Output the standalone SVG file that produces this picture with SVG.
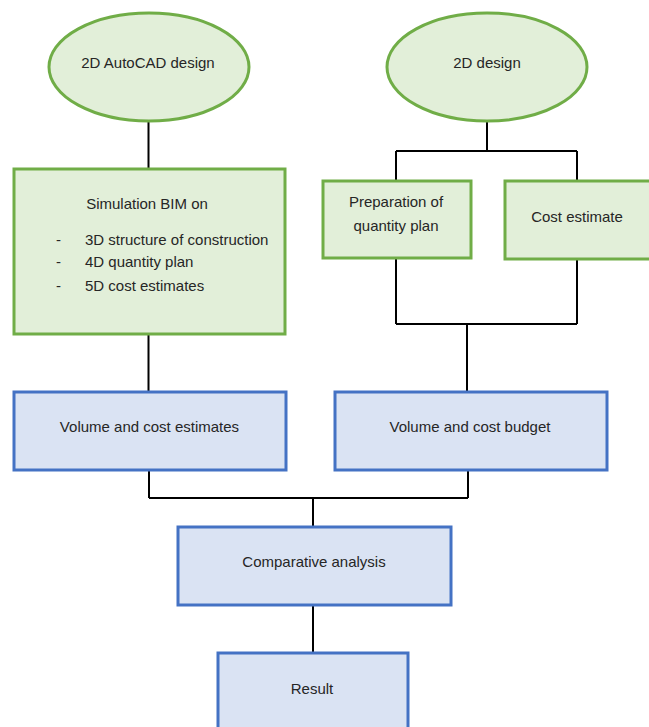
<svg xmlns="http://www.w3.org/2000/svg" width="649" height="727" viewBox="0 0 649 727">
<style>
.g{fill:#e2efd9;stroke:#70ad47;stroke-width:3}
.b{fill:#dae3f3;stroke:#4472c4;stroke-width:3}
.c{fill:none;stroke:#000;stroke-width:2}
text{font-family:"Liberation Sans",Arial,sans-serif;font-size:15px;fill:#262626}
.m{text-anchor:middle}
</style>
<rect width="649" height="727" fill="#fff"/>
<g id="connectors">
<path class="c" d="M148.5 121V169"/>
<path class="c" d="M148.5 334V392"/>
<path class="c" d="M487 121V151M396 151H577M396 151V181M577 151V181"/>
<path class="c" d="M396 258V324M577 259V324M396 324H577M467 324V392"/>
<path class="c" d="M149 470V498M468 470V498M149 498H468M313 498V527"/>
<path class="c" d="M313 605V653"/>
</g>
<g id="n1"><ellipse class="g" cx="149" cy="67" rx="100" ry="54"/><text class="m" x="148" y="68">2D AutoCAD design</text></g>
<g id="n2"><ellipse class="g" cx="487" cy="67" rx="100" ry="54"/><text class="m" x="487" y="68">2D design</text></g>
<g id="n3"><rect class="g" x="14" y="169" width="271" height="165"/>
<text class="m" x="147" y="209">Simulation BIM on</text>
<text x="56" y="245">-</text><text x="85" y="245">3D structure of construction</text>
<text x="56" y="267">-</text><text x="85" y="267">4D quantity plan</text>
<text x="56" y="291">-</text><text x="85" y="291">5D cost estimates</text></g>
<g id="n4"><rect class="g" x="323" y="181" width="148" height="77"/>
<text class="m" x="396" y="207">Preparation of</text><text class="m" x="396" y="231">quantity plan</text></g>
<g id="n5"><rect class="g" x="505" y="181" width="150" height="78"/>
<text class="m" x="577" y="222">Cost estimate</text></g>
<g id="n6"><rect class="b" x="14" y="392" width="272" height="78"/>
<text class="m" x="149.5" y="432">Volume and cost estimates</text></g>
<g id="n7"><rect class="b" x="335" y="392" width="272" height="78"/>
<text class="m" x="470" y="432">Volume and cost budget</text></g>
<g id="n8"><rect class="b" x="178" y="527" width="273" height="78"/>
<text class="m" x="314" y="567">Comparative analysis</text></g>
<g id="n9"><rect class="b" x="218" y="653" width="190" height="90"/>
<text class="m" x="312" y="694">Result</text></g>
</svg>
